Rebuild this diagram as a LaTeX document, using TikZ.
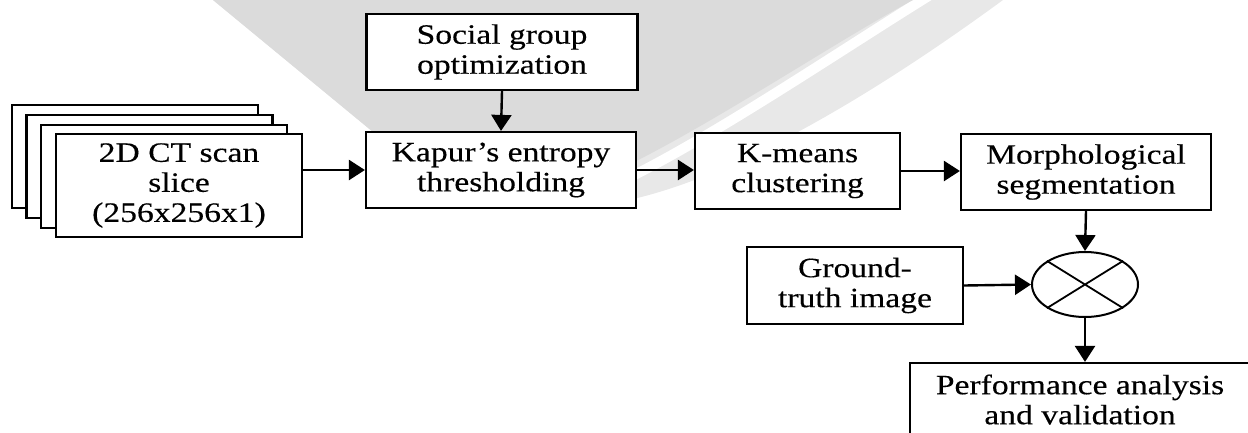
\documentclass[tikz,border=0pt]{standalone}
\usepackage{fontspec}
\setmainfont{Liberation Serif}[FakeStretch=1.2,FakeBold=0.3]
\usetikzlibrary{arrows.meta,shapes.geometric}
\definecolor{wmdark}{gray}{0.86}
\definecolor{wmlight}{gray}{0.91}
\begin{document}
\begin{tikzpicture}[x=1pt,y=-1pt,
  box/.style={draw,line width=2.2pt,fill=white,align=center,inner sep=0pt,
    font=\fontsize{28}{30}\selectfont},
  arr/.style={line width=2.4pt,-{Triangle[length=16pt,width=20pt]}},
]
\useasboundingbox (0,0) rectangle (1248,432);
\clip (0,0) rectangle (1248,432);

% faint background swoosh
\fill[wmlight] (213,0) -- (367,127) .. controls (420,175) and (500,215) .. (600,205)
  .. controls (720,190) and (880,90) .. (1003,0) -- cycle;
\draw[white,line width=10pt] (578,200) .. controls (668,168) and (828,58) .. (935,-8);
\fill[wmdark] (213,0) -- (367,127) .. controls (420,170) and (480,200) .. (570,190)
  .. controls (660,160) and (820,50) .. (913,0) -- cycle;

% stack of input slices
\node[box,minimum width=246pt,minimum height=103pt] (s3) at (135,156.5) {};
\node[box,minimum width=246pt,minimum height=103pt] (s2) at (149.5,166.5) {};
\node[box,minimum width=246pt,minimum height=103pt] (s1) at (164,176.5) {};
\node[box,minimum width=246pt,minimum height=103pt] (ct) at (179,185.5)
  {2D CT scan\\slice\\(256x256x1)};

% processing blocks
\node[box,minimum width=271pt,minimum height=76pt] (sgo) at (502,52)
  {Social group\\optimization};
\node[box,minimum width=270pt,minimum height=76pt] (kapur) at (501,170)
  {Kapur’s entropy\\thresholding};
\node[box,minimum width=205pt,minimum height=76pt] (kmeans) at (797.5,171)
  {K-means\\clustering};
\node[box,minimum width=250pt,minimum height=76pt] (morph) at (1086,172)
  {Morphological\\segmentation};
\node[box,minimum width=216pt,minimum height=77pt] (gt) at (855,285.5)
  {Ground-\\truth image};
\node[draw,ellipse,line width=2pt,fill=white,minimum width=106pt,minimum height=65pt,
  inner sep=0pt] (cmp) at (1085,284.5) {};
\draw[line width=1.8pt] (cmp.north west) -- (cmp.south east)
  (cmp.north east) -- (cmp.south west);
\node[box,minimum width=340pt,minimum height=73pt] (perf) at (1080,399.5)
  {Performance analysis\\and validation};

% connectors
\draw[arr] (ct.east |- kapur.west) -- (kapur.west);
\draw[arr] (sgo.south) -- (kapur.north);
\draw[arr] (kapur.east) -- (kmeans.west |- kapur.east);
\draw[arr] (kmeans.east) -- (morph.west |- kmeans.east);
\draw[arr] (morph.south) -- (cmp.north);
\draw[arr] (gt.east) -- (cmp.west);
\draw[arr] (cmp.south) -- (cmp.south |- perf.north);
\end{tikzpicture}
\end{document}
